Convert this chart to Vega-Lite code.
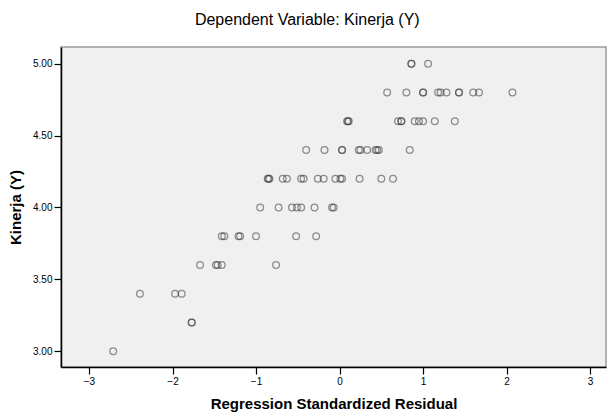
{
  "$schema": "https://vega.github.io/schema/vega-lite/v6.json",
  "width": 545,
  "height": 320,
  "autosize": {"type": "none"},
  "padding": {"left": 61, "top": 47, "right": 1, "bottom": 51},
  "background": "white",
  "title": {
    "text": "Dependent Variable: Kinerja (Y)",
    "anchor": "middle",
    "frame": "bounds",
    "font": "Liberation Sans",
    "fontSize": 16,
    "fontWeight": "normal",
    "color": "#000",
    "offset": 19
  },
  "config": {
    "view": {"fill": "#f0f0f0", "stroke": "#999", "strokeWidth": 1.5},
    "axis": {
      "labelFont": "Liberation Sans",
      "titleFont": "Liberation Sans",
      "labelColor": "#000",
      "titleColor": "#000",
      "domainColor": "#000",
      "tickColor": "#000",
      "domainWidth": 1.5,
      "tickWidth": 1.2,
      "grid": false,
      "labelFontSize": 10,
      "titleFontSize": 15,
      "titleFontWeight": "bold"
    }
  },
  "data": {
    "values": [
      {"res": -2.71, "y": 3.0},
      {"res": -1.77, "y": 3.2}, {"res": -1.77, "y": 3.2},
      {"res": -2.39, "y": 3.4}, {"res": -1.97, "y": 3.4}, {"res": -1.89, "y": 3.4},
      {"res": -1.67, "y": 3.6}, {"res": -1.48, "y": 3.6}, {"res": -1.46, "y": 3.6}, {"res": -1.41, "y": 3.6}, {"res": -0.76, "y": 3.6},
      {"res": -1.41, "y": 3.8}, {"res": -1.38, "y": 3.8}, {"res": -1.21, "y": 3.8}, {"res": -1.19, "y": 3.8}, {"res": -1.0, "y": 3.8}, {"res": -0.52, "y": 3.8}, {"res": -0.28, "y": 3.8},
      {"res": -0.95, "y": 4.0}, {"res": -0.73, "y": 4.0}, {"res": -0.57, "y": 4.0}, {"res": -0.51, "y": 4.0}, {"res": -0.46, "y": 4.0}, {"res": -0.3, "y": 4.0}, {"res": -0.09, "y": 4.0}, {"res": -0.07, "y": 4.0},
      {"res": -0.86, "y": 4.2}, {"res": -0.85, "y": 4.2}, {"res": -0.84, "y": 4.2}, {"res": -0.68, "y": 4.2}, {"res": -0.63, "y": 4.2}, {"res": -0.46, "y": 4.2}, {"res": -0.43, "y": 4.2}, {"res": -0.26, "y": 4.2}, {"res": -0.19, "y": 4.2}, {"res": -0.05, "y": 4.2}, {"res": 0.01, "y": 4.2}, {"res": 0.03, "y": 4.2}, {"res": 0.24, "y": 4.2}, {"res": 0.5, "y": 4.2}, {"res": 0.64, "y": 4.2},
      {"res": -0.4, "y": 4.4}, {"res": -0.18, "y": 4.4}, {"res": 0.03, "y": 4.4}, {"res": 0.03, "y": 4.4}, {"res": 0.23, "y": 4.4}, {"res": 0.25, "y": 4.4}, {"res": 0.33, "y": 4.4}, {"res": 0.43, "y": 4.4}, {"res": 0.45, "y": 4.4}, {"res": 0.47, "y": 4.4}, {"res": 0.84, "y": 4.4},
      {"res": 0.09, "y": 4.6}, {"res": 0.1, "y": 4.6}, {"res": 0.11, "y": 4.6}, {"res": 0.7, "y": 4.6}, {"res": 0.74, "y": 4.6}, {"res": 0.74, "y": 4.6}, {"res": 0.9, "y": 4.6}, {"res": 0.95, "y": 4.6}, {"res": 1.0, "y": 4.6}, {"res": 1.14, "y": 4.6}, {"res": 1.38, "y": 4.6},
      {"res": 0.57, "y": 4.8}, {"res": 0.8, "y": 4.8}, {"res": 1.0, "y": 4.8}, {"res": 1.0, "y": 4.8}, {"res": 1.18, "y": 4.8}, {"res": 1.21, "y": 4.8}, {"res": 1.28, "y": 4.8}, {"res": 1.43, "y": 4.8}, {"res": 1.43, "y": 4.8}, {"res": 1.6, "y": 4.8}, {"res": 1.67, "y": 4.8}, {"res": 2.07, "y": 4.8},
      {"res": 0.86, "y": 5.0}, {"res": 0.86, "y": 5.0}, {"res": 1.06, "y": 5.0}
    ]
  },
  "mark": {"type": "point", "shape": "circle", "filled": false, "size": 45, "stroke": "#333", "strokeWidth": 1.3, "strokeOpacity": 0.75},
  "encoding": {
    "x": {
      "field": "res", "type": "quantitative",
      "scale": {"domain": [-3.335, 3.19], "nice": false, "zero": false},
      "axis": {"values": [-3, -2, -1, 0, 1, 2, 3], "format": "d", "title": "Regression Standardized Residual", "tickSize": 7, "labelPadding": 2, "titlePadding": 10}
    },
    "y": {
      "field": "y", "type": "quantitative",
      "scale": {"domain": [2.89, 5.116], "nice": false, "zero": false},
      "axis": {"values": [3, 3.5, 4, 4.5, 5], "format": ".2f", "title": "Kinerja (Y)", "tickSize": 7, "labelPadding": 2, "titlePadding": 9}
    }
  }
}
